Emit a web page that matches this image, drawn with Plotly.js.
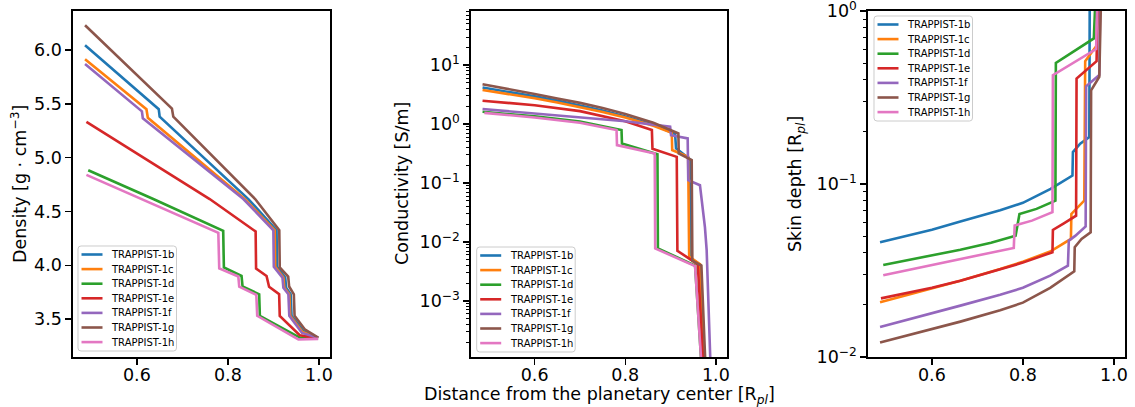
<!DOCTYPE html>
<html><head><meta charset="utf-8">
<script src="https://cdn.plot.ly/plotly-3.0.1.min.js"></script>
<style>html,body{margin:0;padding:0;background:#fff;} #chart{width:1135px;height:407px;}</style>
</head><body><div id="chart"></div>
<script>
// ---------- series names and colours ----------
const planets = ['TRAPPIST-1b','TRAPPIST-1c','TRAPPIST-1d','TRAPPIST-1e','TRAPPIST-1f','TRAPPIST-1g','TRAPPIST-1h'];
const colors  = ['#1f77b4','#ff7f0e','#2ca02c','#d62728','#9467bd','#8c564b','#e377c2'];

// ---------- panel 1: density [g cm^-3] vs distance ----------
const densX_b = [0.486,0.648,0.650,0.845,0.907,0.908,0.926,0.928,0.938,0.940,0.9655,0.9985];
const densY_b = [6.045,5.45,5.38,4.615,4.325,3.985,3.885,3.79,3.73,3.53,3.39,3.325];
const densX_c = [0.486,0.621,0.624,0.837,0.903,0.904,0.922,0.924,0.935,0.937,0.964,0.9985];
const densY_c = [5.915,5.45,5.37,4.615,4.325,3.985,3.885,3.79,3.73,3.53,3.38,3.325];
const densX_d = [0.493,0.636,0.7897,0.7912,0.830,0.8323,0.8688,0.8703,0.958,0.9985];
const densY_d = [4.883,4.615,4.319,3.979,3.90,3.802,3.730,3.529,3.328,3.319];
const densX_e = [0.489,0.760,0.861,0.862,0.885,0.8906,0.9127,0.914,0.958,0.995];
const densY_e = [5.332,4.615,4.313,3.969,3.90,3.80,3.73,3.529,3.35,3.325];
const densX_f = [0.486,0.611,0.613,0.834,0.900,0.901,0.920,0.922,0.933,0.935,0.963,0.9985];
const densY_f = [5.87,5.43,5.365,4.615,4.325,3.985,3.885,3.79,3.73,3.53,3.37,3.325];
const densX_g = [0.486,0.677,0.680,0.80,0.86,0.913,0.914,0.9326,0.9347,0.945,0.9466,0.969,0.9985];
const densY_g = [6.23,5.456,5.38,4.87,4.615,4.325,3.979,3.895,3.802,3.73,3.529,3.405,3.328];
const densX_h = [0.489,0.779,0.781,0.823,0.825,0.8625,0.8645,0.955,0.9985];
const densY_h = [4.84,4.30,3.97,3.895,3.80,3.725,3.53,3.31,3.315];

// ---------- panel 2: conductivity [S/m] vs distance ----------
const condX_b = [0.485,0.55,0.6,0.65,0.7,0.75,0.8,0.862,0.91,0.912,0.943,0.945,0.966,0.975];
const condY_b = [4.17,3.45,2.95,2.50,2.09,1.70,1.35,0.977,0.676,0.389,0.251,0.00501,0.00407,5.0e-5];
const condX_c = [0.485,0.55,0.6,0.65,0.7,0.75,0.8,0.862,0.9026,0.9036,0.9388,0.941,0.965,0.975];
const condY_c = [3.78,3.18,2.75,2.33,1.95,1.60,1.29,0.933,0.708,0.363,0.278,0.00562,0.00417,5.0e-5];
const condX_d = [0.485,0.6,0.7,0.7917,0.7927,0.871,0.872,0.954,0.970];
const condY_d = [1.62,1.35,1.10,0.794,0.468,0.309,0.00776,0.00398,5.0e-5];
const condX_e = [0.485,0.6,0.7,0.8,0.8587,0.860,0.9136,0.915,0.960,0.974];
const condY_e = [2.49,2.09,1.66,1.12,0.794,0.380,0.278,0.00708,0.00417,5.0e-5];
const condX_f = [0.485,0.6,0.7,0.8,0.899,0.901,0.9377,0.939,0.9648,0.9758,0.9796,0.983,0.9865,0.989];
const condY_f = [1.80,1.51,1.32,1.12,0.902,0.646,0.571,0.112,0.0918,0.0178,0.00724,0.00132,2.14e-4,5.0e-5];
const condX_g = [0.485,0.55,0.6,0.65,0.7,0.75,0.8,0.862,0.9172,0.918,0.9466,0.948,0.968,0.978];
const condY_g = [4.73,3.85,3.24,2.72,2.29,1.87,1.48,1.05,0.693,0.316,0.244,0.00479,0.00398,5.0e-5];
const condX_h = [0.489,0.6,0.7,0.7807,0.7817,0.865,0.866,0.954,0.970];
const condY_h = [1.55,1.29,1.05,0.794,0.440,0.316,0.00776,0.00389,5.0e-5];

// ---------- panel 3: skin depth [R_pl] vs distance ----------
const skinX_b = [0.486,0.55,0.6,0.6626,0.7,0.75,0.8,0.861,0.909,0.910,0.926,0.946,0.947];
const skinY_b = [0.0460,0.0502,0.0543,0.0607,0.0648,0.0705,0.0778,0.0938,0.112,0.153,0.171,0.187,1.26];
const skinX_c = [0.486,0.6,0.6626,0.75,0.8,0.86,0.9056,0.9066,0.935,0.937,0.962,0.965];
const skinY_c = [0.0207,0.0249,0.0276,0.0322,0.0355,0.0407,0.0481,0.0671,0.0802,0.513,0.631,1.26];
const skinX_d = [0.493,0.6,0.6626,0.73,0.784,0.7925,0.83,0.8715,0.8725,0.956,0.96];
const skinY_d = [0.0340,0.0385,0.0417,0.0457,0.0502,0.0671,0.0718,0.0802,0.501,0.695,1.26];
const skinX_e = [0.488,0.6,0.6626,0.75,0.8,0.865,0.866,0.891,0.917,0.918,0.962,0.965];
const skinY_e = [0.0218,0.0251,0.0276,0.0320,0.0351,0.0403,0.0542,0.0594,0.0656,0.407,0.513,1.26];
const skinX_f = [0.486,0.6,0.6626,0.75,0.8,0.86,0.899,0.901,0.915,0.938,0.939,0.968,0.970];
const skinY_f = [0.0149,0.0178,0.0198,0.0229,0.0251,0.0295,0.0337,0.0470,0.0501,0.0568,0.367,0.427,1.26];
const skinX_g = [0.486,0.6,0.6626,0.75,0.8,0.86,0.913,0.914,0.929,0.949,0.950,0.968,0.972];
const skinY_g = [0.0121,0.0144,0.0160,0.0186,0.0206,0.0251,0.0313,0.0431,0.0481,0.0526,0.348,0.417,1.26];
const skinX_h = [0.493,0.6,0.6626,0.73,0.78,0.782,0.82,0.865,0.866,0.961,0.964];
const skinY_h = [0.0297,0.0340,0.0368,0.0398,0.0427,0.0575,0.0614,0.0687,0.426,0.603,1.26];

// ---------- tick labels ----------
const xTickVals = [0.6,0.8,1.0];
const xTickText = ['0.6','0.8','1.0'];
const densTickVals = [3.5,4.0,4.5,5.0,5.5,6.0];
const densTickText = ['3.5','4.0','4.5','5.0','5.5','6.0'];
const condTickVals = [1e-3,1e-2,1e-1,1,10];
const condTickText = ['10<sup>−3</sup>','10<sup>−2</sup>','10<sup>−1</sup>','10<sup>0</sup>','10<sup>1</sup>'];
const skinTickVals = [1e-2,1e-1,1];
const skinTickText = ['10<sup>−2</sup>','10<sup>−1</sup>','10<sup>0</sup>'];

const densX = [densX_b,densX_c,densX_d,densX_e,densX_f,densX_g,densX_h];
const densY = [densY_b,densY_c,densY_d,densY_e,densY_f,densY_g,densY_h];
const condX = [condX_b,condX_c,condX_d,condX_e,condX_f,condX_g,condX_h];
const condY = [condY_b,condY_c,condY_d,condY_e,condY_f,condY_g,condY_h];
const skinX = [skinX_b,skinX_c,skinX_d,skinX_e,skinX_f,skinX_g,skinX_h];
const skinY = [skinY_b,skinY_c,skinY_d,skinY_e,skinY_f,skinY_g,skinY_h];

const W = 1135, H = 407;
const FONT = 'DejaVu Sans, Verdana, sans-serif';
const LW = 2.6;
const px = p => p / W;
const py = p => 1 - p / H;

const traces = [];
function addPanel(xs, ys, xa, ya) {
  planets.forEach((name, i) => {
    traces.push({x: xs[i], y: ys[i], type: 'scatter', mode: 'lines', name: name,
      xaxis: xa, yaxis: ya, showlegend: false, hoverinfo: 'skip',
      line: {color: colors[i], width: LW}});
  });
}
addPanel(densX, densY, 'x', 'y');
addPanel(condX, condY, 'x2', 'y2');
addPanel(skinX, skinY, 'x3', 'y3');

function minorVals(lo, hi) {
  const v = [];
  for (let k = lo; k <= hi; k++) for (let m = 2; m <= 9; m++) v.push(m * Math.pow(10, k));
  return v;
}

const baseAxis = {
  showgrid: false, zeroline: false, showline: true, mirror: true,
  linecolor: '#000', linewidth: 1.6, ticks: 'outside', ticklen: 6, tickwidth: 1.4,
  tickcolor: '#000', tickfont: {family: FONT, size: 17.5, color: '#000'},
  ticklabeloverflow: 'allow'
};
const yDom = [1 - 357 / H, 1 - 11 / H];
const xRange = [0.4595, 1.0245];

function xAxis(dom, anchor) {
  return Object.assign({}, baseAxis, {domain: dom, anchor: anchor, range: xRange,
    tickmode: 'array', tickvals: xTickVals, ticktext: xTickText, ticklabelstandoff: -5});
}

const shapes = [];
const annotations = [];

function roundRect(x0, y0, x1, y1, r) {
  const P = (x, y) => px(x).toFixed(5) + ',' + py(y).toFixed(5);
  return 'M' + P(x0 + r, y0) + ' L' + P(x1 - r, y0) + ' Q' + P(x1, y0) + ' ' + P(x1, y0 + r) +
    ' L' + P(x1, y1 - r) + ' Q' + P(x1, y1) + ' ' + P(x1 - r, y1) +
    ' L' + P(x0 + r, y1) + ' Q' + P(x0, y1) + ' ' + P(x0, y1 - r) +
    ' L' + P(x0, y0 + r) + ' Q' + P(x0, y0) + ' ' + P(x0 + r, y0) + ' Z';
}

function addLegend(left, top) {
  const w = 98.5, h = 105;
  shapes.push({type: 'path', xref: 'paper', yref: 'paper', layer: 'above',
    path: roundRect(left, top, left + w, top + h, 3),
    line: {color: '#cccccc', width: 1}, fillcolor: 'rgba(255,255,255,0.8)'});
  planets.forEach((name, i) => {
    const cy = top + 8.5 + i * 14.6;
    shapes.push({type: 'line', xref: 'paper', yref: 'paper', layer: 'above',
      x0: px(left + 3.5), x1: px(left + 24.5), y0: py(cy), y1: py(cy),
      line: {color: colors[i], width: LW}});
    annotations.push({xref: 'paper', yref: 'paper', x: px(left + 31), y: py(cy),
      text: name, showarrow: false, xanchor: 'left', yanchor: 'middle',
      font: {family: FONT, size: 10, color: '#000'}});
  });
}
addLegend(78, 246);
addLegend(476.7, 247);
addLegend(874, 16);

const titleFont = {family: FONT, size: 17.5, color: '#000'};
annotations.push({xref: 'paper', yref: 'paper', x: px(19), y: py(184), textangle: -90,
  text: 'Density [g · cm<sup>−3</sup>]', showarrow: false, xanchor: 'center', yanchor: 'middle', font: titleFont});
annotations.push({xref: 'paper', yref: 'paper', x: px(402), y: py(184), textangle: -90,
  text: 'Conductivity [S/m]', showarrow: false, xanchor: 'center', yanchor: 'middle', font: titleFont});
annotations.push({xref: 'paper', yref: 'paper', x: px(797), y: py(184), textangle: -90,
  text: 'Skin depth [R<sub><i>pl</i></sub>]', showarrow: false, xanchor: 'center', yanchor: 'middle', font: titleFont});
annotations.push({xref: 'paper', yref: 'paper', x: px(599), y: py(395),
  text: 'Distance from the planetary center [R<sub><i>pl</i></sub>]', showarrow: false,
  xanchor: 'center', yanchor: 'middle', font: titleFont});

const layout = {
  width: W, height: H, margin: {l: 0, r: 0, t: 0, b: 0},
  paper_bgcolor: '#fff', plot_bgcolor: '#fff', showlegend: false,
  font: {family: FONT, color: '#000'},
  xaxis: xAxis([73 / W, 330 / W], 'y'),
  xaxis2: xAxis([471 / W, 727 / W], 'y2'),
  xaxis3: xAxis([868 / W, 1125 / W], 'y3'),
  yaxis: Object.assign({}, baseAxis, {domain: yDom, anchor: 'x', range: [3.147, 6.3625],
    tickmode: 'array', tickvals: densTickVals, ticktext: densTickText}),
  yaxis2: Object.assign({}, baseAxis, {domain: yDom, anchor: 'x2', type: 'log', range: [-3.953, 1.919],
    tickmode: 'array', tickvals: condTickVals, ticktext: condTickText,
    minor: {ticks: 'outside', ticklen: 3.5, tickwidth: 1, tickcolor: '#000', tickmode: 'array', tickvals: minorVals(-4, 1)}}),
  yaxis3: Object.assign({}, baseAxis, {domain: yDom, anchor: 'x3', type: 'log', range: [-2.0005, 0.0005],
    tickmode: 'array', tickvals: skinTickVals, ticktext: skinTickText,
    minor: {ticks: 'outside', ticklen: 3.5, tickwidth: 1, tickcolor: '#000', tickmode: 'array', tickvals: minorVals(-2, -1)}}),
  shapes: shapes,
  annotations: annotations
};

Plotly.newPlot('chart', traces, layout, {staticPlot: true, displayModeBar: false});
</script>
</body></html>
